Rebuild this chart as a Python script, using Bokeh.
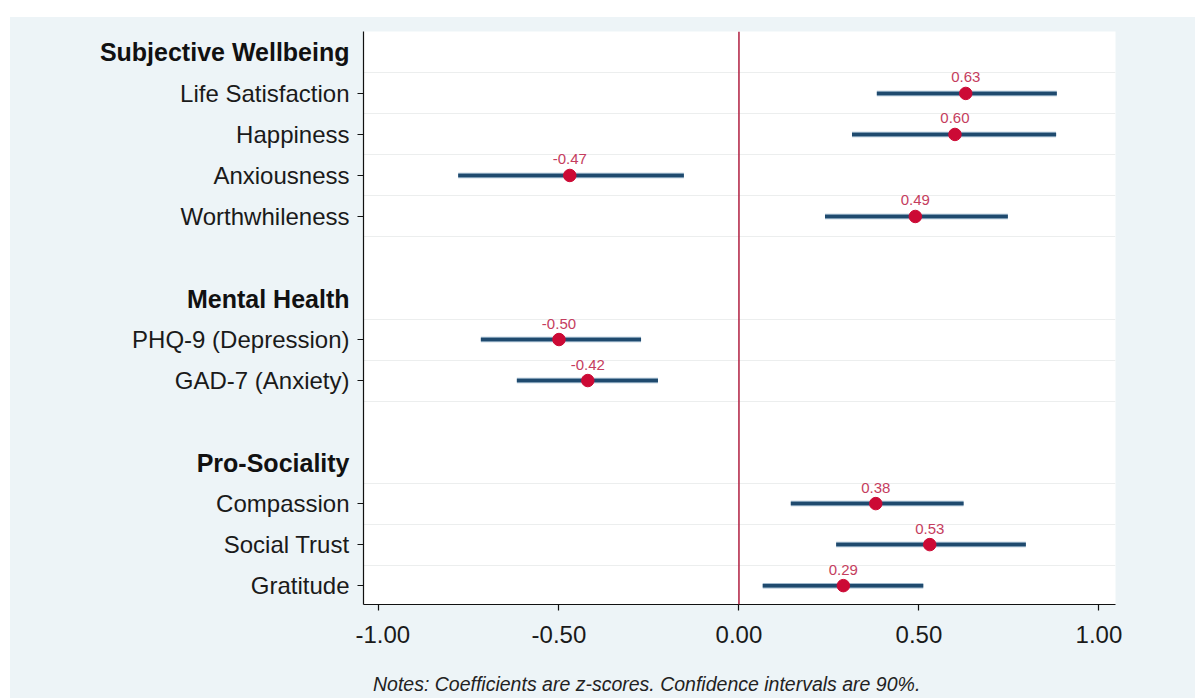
from bokeh.plotting import figure
from bokeh.models import ColumnDataSource, Range1d, FixedTicker, Span, Spacer
from bokeh.layouts import column, row
from bokeh.core.properties import value
from bokeh.embed import file_html
from bokeh.resources import INLINE

# ---------------- data ----------------
groups = ["Subjective Wellbeing", "Mental Health", "Pro-Sociality"]
items = ["Life Satisfaction", "Happiness", "Anxiousness", "Worthwhileness",
         "PHQ-9 (Depression)", "GAD-7 (Anxiety)",
         "Compassion", "Social Trust", "Gratitude"]
item_group = [0, 0, 0, 0, 1, 1, 2, 2, 2]
coef = [0.63, 0.60, -0.47, 0.49, -0.50, -0.42, 0.38, 0.53, 0.29]
ci_low = [0.383, 0.314, -0.780, 0.239, -0.717, -0.617, 0.144, 0.270, 0.066]
ci_high = [0.883, 0.881, -0.153, 0.747, -0.272, -0.225, 0.624, 0.797, 0.512]
x_ticks = [-1.0, -0.5, 0.0, 0.5, 1.0]
x_tick_labels = ["-1.00", "-0.50", "0.00", "0.50", "1.00"]
note = "Notes: Coefficients are z-scores. Confidence intervals are 90%."

# ---------------- row layout (header, items, blank gap) ----------------
header_rows = []
item_rows = []
r = 0
for g in range(len(groups)):
    header_rows.append(r)
    r += 1
    for gi in item_group:
        if gi == g:
            item_rows.append(r)
            r += 1
    r += 1  # blank gap row

grid_rows = sorted(set([y - 0.5 for y in item_rows] + [y + 0.5 for y in item_rows]))

FONT = "Liberation Sans"
BG = "#edf4f7"
NAVY = "#1f4a6e"
CRIMSON = "#cc0a35"
LABEL_RED = "#c53d5e"
TXT = "#1a1a1a"

TOP, BOTTOM = 14, 52
FRAME_H = 573
H = TOP + FRAME_H + BOTTOM
LEFT_W = 345
MAIN_W = 840
FRAME_W = 752
NOTE_H = 42

x_range = Range1d(-1.043, 1.046)
y_range = Range1d(13.46, -0.51)

# ---------------- label column (left) ----------------
lab = figure(width=LEFT_W, height=H, output_backend="svg", toolbar_location=None,
             x_range=Range1d(0, 1), y_range=y_range,
             x_axis_location=None, y_axis_location=None,
             min_border_left=0, min_border_right=0,
             min_border_top=TOP, min_border_bottom=BOTTOM)
lab.background_fill_color = BG
lab.border_fill_color = BG
lab.outline_line_color = None
lab.grid.visible = False

isrc = ColumnDataSource(dict(x=[1] * len(items), y=item_rows, t=items))
lab.text(x="x", y="y", text="t", source=isrc, x_offset=-6, text_align="right",
         text_baseline="middle", text_font=value(FONT), text_font_size="24px",
         text_color=TXT)
hsrc = ColumnDataSource(dict(x=[1] * len(groups), y=header_rows, t=groups))
lab.text(x="x", y="y", text="t", source=hsrc, x_offset=-6, text_align="right",
         text_baseline="middle", text_font=value(FONT), text_font_size="25px",
         text_font_style="bold", text_color="#111111")

# ---------------- main plot ----------------
p = figure(width=MAIN_W, height=H, output_backend="svg", toolbar_location=None,
           x_range=x_range, y_range=y_range,
           min_border_left=8, min_border_right=MAIN_W - 8 - FRAME_W,
           min_border_top=TOP, min_border_bottom=BOTTOM)
p.background_fill_color = "white"
p.border_fill_color = BG
p.outline_line_color = None

p.xgrid.visible = False
p.ygrid.ticker = FixedTicker(ticks=grid_rows)
p.ygrid.grid_line_color = "#eceeee"
p.ygrid.grid_line_width = 1

p.xaxis.ticker = FixedTicker(ticks=x_ticks)
p.xaxis.major_label_overrides = {t: l for t, l in zip(x_ticks, x_tick_labels)}
p.yaxis.ticker = FixedTicker(ticks=item_rows)
p.yaxis.major_label_overrides = {rr: "" for rr in item_rows}
p.yaxis.major_label_standoff = 0
for ax in (p.xaxis, p.yaxis):
    ax.axis_line_color = "#111111"
    ax.axis_line_width = 1.2
    ax.major_tick_line_color = "#111111"
    ax.major_tick_line_width = 1.2
    ax.major_tick_out = 6
    ax.major_tick_in = 0
    ax.minor_tick_line_color = None
    ax.major_label_text_font = FONT
    ax.major_label_text_font_size = "24px"
    ax.major_label_text_color = TXT
p.yaxis.major_label_text_font_size = "1px"
p.xaxis.major_label_standoff = 15

p.add_layout(Span(location=0, dimension="height", line_color="#b01e40",
                  line_width=1.5))

src = ColumnDataSource(dict(y=item_rows, coef=coef, lo=ci_low, hi=ci_high,
                            lab=["%.2f" % c for c in coef]))
p.segment(x0="lo", x1="hi", y0="y", y1="y", source=src, line_color="#9fb8cc",
          line_width=5.5)
p.segment(x0="lo", x1="hi", y0="y", y1="y", source=src, line_color=NAVY,
          line_width=3.5)
p.scatter(x="coef", y="y", source=src, size=12.5, fill_color=CRIMSON,
          line_color=CRIMSON)
p.text(x="coef", y="y", text="lab", source=src, text_align="center",
       text_baseline="middle", y_offset=-16, text_font=value(FONT),
       text_font_size="15px", text_color=LABEL_RED)

# ---------------- notes strip (shares the x scale) ----------------
nw = LEFT_W + MAIN_W
nf = figure(width=nw, height=NOTE_H, output_backend="svg", toolbar_location=None,
            x_range=x_range, y_range=Range1d(0, NOTE_H),
            x_axis_location=None, y_axis_location=None,
            min_border_left=LEFT_W + 8, min_border_right=nw - LEFT_W - 8 - FRAME_W,
            min_border_top=0, min_border_bottom=0)
nf.background_fill_color = BG
nf.border_fill_color = BG
nf.outline_line_color = None
nf.grid.visible = False
nsrc = ColumnDataSource(dict(x=[x_ticks[0]], y=[NOTE_H / 2], t=[note]))
nf.text(x="x", y="y", text="t", source=nsrc, x_offset=-6, y_offset=6,
        text_align="left", text_baseline="middle", text_font=value(FONT),
        text_font_size="19.5px", text_font_style="italic", text_color="#222222")

layout = column(Spacer(height=17),
                row(Spacer(width=10),
                    column(row(lab, p), nf,
                           styles={"background-color": BG})))
open("out.html", "w").write(file_html(layout, INLINE))
